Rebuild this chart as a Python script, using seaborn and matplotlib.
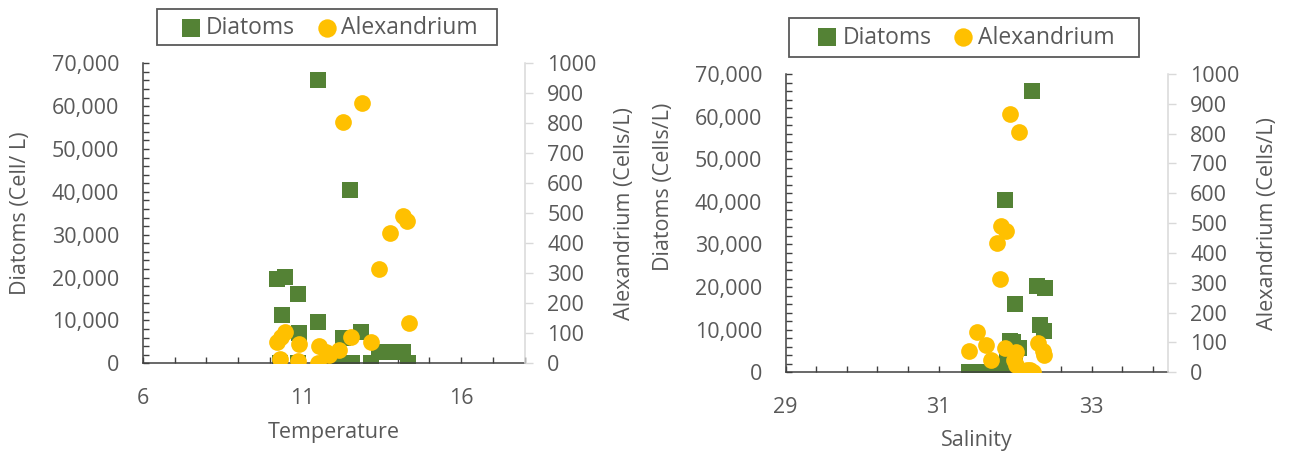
import matplotlib
matplotlib.use("Agg")
import matplotlib.pyplot as plt
import seaborn as sns
from matplotlib.patches import Rectangle
from matplotlib.ticker import MultipleLocator, FuncFormatter

# ---- data ----
temp_diatoms = [11.50, 12.52, 10.21, 10.48, 10.87, 10.37, 11.51, 10.92, 12.86, 12.28,
                13.43, 13.74, 14.16, 10.31, 10.88, 11.96, 12.28, 12.57, 13.17, 14.32]
diatoms_t = [66100, 40400, 19700, 20200, 16100, 11200, 9700, 7000, 7400, 5800,
             2700, 2700, 2700, 0, 0, 0, 0, 0, 0, 0]
temp_alex = [12.87, 12.28, 14.16, 14.29, 13.76, 13.43, 14.37, 10.20, 10.34, 10.48,
             10.92, 11.52, 11.75, 12.17, 12.55, 13.18, 10.31, 10.88, 11.50, 11.86]
alex_t = [867, 805, 490, 476, 435, 313, 135, 70, 88, 103,
          66, 58, 39, 44, 88, 70, 13, 9, 0, 28]

sal_diatoms = [32.22, 31.87, 32.29, 32.39, 32.00, 32.33, 32.38, 31.94, 31.97, 32.05,
               31.95, 32.00, 31.90, 31.40, 31.50, 31.60, 31.71, 31.80, 31.87, 32.13]
diatoms_s = [66100, 40400, 20200, 19700, 16100, 11200, 9700, 7400, 7000, 5800,
             2700, 2700, 2700, 0, 0, 0, 0, 0, 0, 0]
sal_alex = [31.94, 32.05, 31.81, 31.88, 31.77, 31.80, 31.50, 31.40, 31.62, 31.87,
            32.30, 32.37, 32.38, 31.68, 31.98, 32.01, 32.01, 32.19, 32.16, 32.23]
alex_s = [866, 804, 491, 473, 434, 313, 135, 70, 93, 83,
          98, 72, 57, 40, 41, 68, 23, 8, 9, 0]

GREEN = "#548235"
GOLD = "#FFC000"
TEXT = "#595959"
AXIS = "#404040"
LIGHT = "#D9D9D9"

sns.set_theme(style="ticks")
plt.rcParams["font.family"] = ["Open Sans", "DejaVu Sans"]
plt.rcParams["text.color"] = TEXT


def draw_panel(ax, x_d, y_d, x_a, y_a, xlim, xmajor, xminor, xoffset, xminor_offset,
               xlabel, ylabel_left, ylabel_right, left_label_y=0.5):
    sns.scatterplot(x=x_d, y=y_d, ax=ax, marker="s", color=GREEN, s=130,
                    linewidth=0, label="Diatoms", legend=False)
    ax2 = ax.twinx()
    sns.scatterplot(x=x_a, y=y_a, ax=ax2, marker="o", color=GOLD, s=145,
                    linewidth=0, label="Alexandrium", legend=False)

    ax.set_xlim(*xlim)
    ax.set_ylim(0, 70000)
    ax2.set_ylim(0, 1000)
    ax.xaxis.set_major_locator(MultipleLocator(xmajor, offset=xoffset))
    ax.xaxis.set_minor_locator(MultipleLocator(xminor, offset=xminor_offset))
    ax.yaxis.set_major_locator(MultipleLocator(10000))
    ax.yaxis.set_minor_locator(MultipleLocator(2000))
    ax.yaxis.set_major_formatter(FuncFormatter(lambda v, p: f"{int(round(v)):,}"))
    ax.xaxis.set_major_formatter(FuncFormatter(lambda v, p: f"{round(v):g}"))
    ax2.yaxis.set_major_locator(MultipleLocator(100))
    ax2.yaxis.set_minor_locator(plt.NullLocator())

    for a in (ax, ax2):
        for s in a.spines.values():
            s.set_visible(False)
    for side in ("left", "bottom"):
        ax.spines[side].set_visible(True)
        ax.spines[side].set_color(AXIS)
        ax.spines[side].set_linewidth(1.1)
    ax2.spines["right"].set_visible(True)
    ax2.spines["right"].set_color(LIGHT)
    ax2.spines["right"].set_linewidth(1.1)

    ax.tick_params(axis="both", which="both", direction="in", length=4,
                   width=1.0, color=AXIS, labelsize=15.5, labelcolor=TEXT,
                   left=True, bottom=True, right=False, top=False)
    ax.tick_params(axis="x", which="major", pad=18)
    ax.tick_params(axis="y", which="major", pad=17)
    ax2.tick_params(axis="y", which="major", direction="out", length=6,
                    width=1.0, color=LIGHT, labelsize=15.5, labelcolor=TEXT, pad=10,
                    right=True, left=False)
    ax.grid(False)
    ax2.grid(False)

    ax.set_xlabel(xlabel, fontsize=15.5, color=TEXT, va="center")
    ax.set_ylabel(ylabel_left, fontsize=15.5, color=TEXT, va="center")
    ax2.set_ylabel(ylabel_right, fontsize=15.5, color=TEXT, va="center")
    ax.xaxis.set_label_coords(0.5, -0.23)
    ax.yaxis.set_label_coords(-0.32, left_label_y)
    ax2.yaxis.set_label_coords(1.26, 0.5)

    for a in (ax, ax2):
        if a.get_legend() is not None:
            a.get_legend().remove()
    h1, l1 = ax.get_legend_handles_labels()
    h2, l2 = ax2.get_legend_handles_labels()
    return h1 + h2, l1 + l2


fig = plt.figure(figsize=(12.92, 4.57), dpi=100)
W, H = 1292.0, 457.0

ax_t = fig.add_axes([142.7 / W, 1 - 363.3 / H, 382.3 / W, 300.0 / H])
handles, labels = draw_panel(ax_t, temp_diatoms, diatoms_t, temp_alex, alex_t,
                             (6, 18), 5, 1, 1, 0, "Temperature",
                             "Diatoms (Cell/ L)", "Alexandrium (Cells/L)")

ax_s = fig.add_axes([785.7 / W, 1 - 372.3 / H, 382.3 / W, 298.3 / H])
draw_panel(ax_s, sal_diatoms, diatoms_s, sal_alex, alex_s,
           (29, 34), 2, 0.4, 1, 0.2, "Salinity",
           "Diatoms (Cells/L)", "Alexandrium (Cells/L)", left_label_y=0.62)


def add_legend(cx, cy, box):
    x0, y0, w, h = box
    fig.patches.append(Rectangle((x0 / W, 1 - (y0 + h) / H), w / W, h / H,
                                 transform=fig.transFigure, fill=False,
                                 edgecolor=TEXT, linewidth=1.3))
    fig.legend(handles, labels, loc="center", bbox_to_anchor=(cx / W, 1 - cy / H),
               ncol=2, frameon=False, fontsize=16.5, handlelength=0.7,
               handletextpad=0.3, columnspacing=1.05, borderpad=0.0,
               labelcolor=TEXT, markerscale=1.1)


add_legend(330.3, 27.7, (157.3, 9.3, 340.0, 36.0))
add_legend(967.2, 37.5, (789.3, 18.3, 350.0, 39.0))

fig.savefig("out.png", dpi=100)
